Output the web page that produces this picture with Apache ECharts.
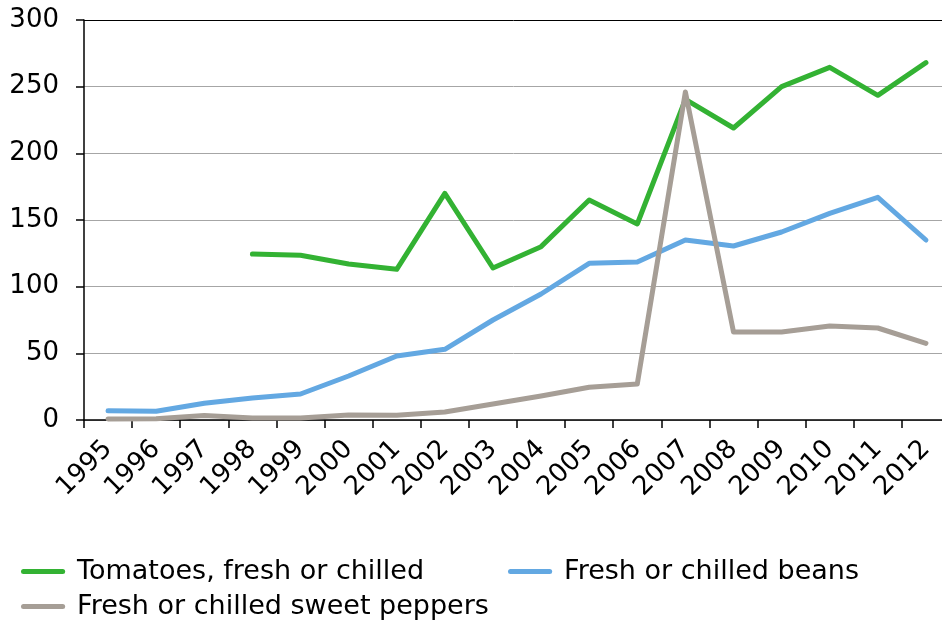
<!DOCTYPE html>
<html>
<head>
<meta charset="utf-8">
<script src="https://cdn.jsdelivr.net/npm/echarts@6/dist/echarts.min.js"></script>
<style>html,body{margin:0;padding:0;background:#fff;}#c{width:942px;height:623px;}</style>
</head>
<body>
<div id="c"></div>
<script>
const years = ['1995','1996','1997','1998','1999','2000','2001','2002','2003','2004','2005','2006','2007','2008','2009','2010','2011','2012'];
const tomatoes = [null, null, null, 124.5, 123.5, 117, 113, 170, 114, 130, 165, 147, 240.5, 219, 250, 264.5, 243.5, 268];
const beans = [7, 6.5, 12.5, 16.5, 19.5, 33, 48, 53, 75, 94.5, 117.5, 118.5, 135, 130.5, 141, 155, 167, 135];
const peppers = [0.8, 1, 3.3, 1.5, 1.5, 3.8, 3.5, 6, 12, 18, 24.5, 27, 246, 66, 66, 70.5, 69, 57.5];
const yTicks = [0, 50, 100, 150, 200, 250, 300];

const names = ['Tomatoes, fresh or chilled', 'Fresh or chilled beans', 'Fresh or chilled sweet peppers'];
const colors = ['#33b233', '#63a8e2', '#a69e96'];
const FONT = 'DejaVu Sans';
const capsule = 'path://M3,0 L50,0 A3,3 0 0 1 50,6 L3,6 A3,3 0 0 1 3,0 Z';

function legend(name, left, top) {
  return {
    data: [name], left: left, top: top, padding: 0, itemWidth: 54, itemHeight: 5,
    icon: capsule, itemGap: 0, selectedMode: false,
    textStyle: { fontFamily: FONT, fontSize: 27, color: '#000', padding: [0, 0, 0, 2] }
  };
}

const chart = echarts.init(document.getElementById('c'), null, { renderer: 'canvas' });
chart.setOption({
  animation: false,
  backgroundColor: '#fff',
  color: colors,
  grid: { left: 84, top: 20, width: 866, height: 400, containLabel: false, outerBoundsMode: 'none' },
  legend: [
    legend(names[0], 21, 558),
    legend(names[1], 508, 558),
    legend(names[2], 21, 593)
  ],
  xAxis: {
    type: 'category', data: years, boundaryGap: true,
    axisLine: { lineStyle: { color: '#000', width: 1.5 } },
    axisTick: { show: true, length: 8, lineStyle: { color: '#000', width: 1.5 } },
    axisLabel: { interval: 0, rotate: 45, margin: 25, padding: [12, 0, 0, 0],
      fontFamily: FONT, fontSize: 26, color: '#000' },
    splitLine: { show: false }
  },
  yAxis: {
    type: 'value', min: 0, max: 300, interval: 50,
    axisLine: { show: true, lineStyle: { color: '#000', width: 1.5 } },
    axisTick: { show: true, length: 8, lineStyle: { color: '#000', width: 1.5 } },
    axisLabel: { margin: 25, fontFamily: FONT, fontSize: 26, color: '#000',
      formatter: v => yTicks.includes(v) ? String(v) : '' },
    splitLine: { show: true, showMinLine: true, showMaxLine: true,
      lineStyle: { color: ['#a6a6a6','#a6a6a6','#a6a6a6','#a6a6a6','#a6a6a6','#a6a6a6','#000'], width: 1 } }
  },
  series: [
    { name: names[0], type: 'line', data: tomatoes, showSymbol: false, symbol: 'none', connectNulls: false,
      lineStyle: { width: 5, color: colors[0], cap: 'round', join: 'round' }, itemStyle: { color: colors[0] } },
    { name: names[1], type: 'line', data: beans, showSymbol: false, symbol: 'none',
      lineStyle: { width: 5, color: colors[1], cap: 'round', join: 'round' }, itemStyle: { color: colors[1] } },
    { name: names[2], type: 'line', data: peppers, showSymbol: false, symbol: 'none',
      lineStyle: { width: 5, color: colors[2], cap: 'round', join: 'round' }, itemStyle: { color: colors[2] } }
  ]
});
</script>
</body>
</html>
